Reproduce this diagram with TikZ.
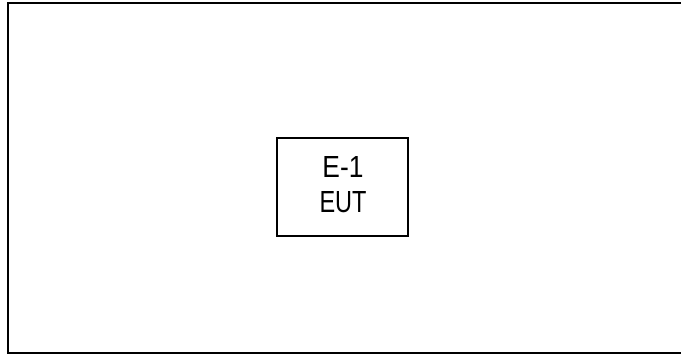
\documentclass[tikz,border=0pt]{standalone}
\usepackage{fontspec}
\setmainfont{Liberation Sans}
\tikzset{
  frame/.style={line width=2pt, draw=black},
  eutbox/.style={draw=black, line width=1.3pt, minimum width=131pt, minimum height=98pt, inner sep=0pt},
  eutlabel/.style={inner sep=0pt, anchor=base}
}
\begin{document}
\begin{tikzpicture}[x=1pt,y=1pt]
\useasboundingbox (0,0) rectangle (681,354);
\coordinate (tr) at (685,350.5);
\coordinate (tl) at (8,350.5);
\coordinate (bl) at (8,1.5);
\coordinate (br) at (685,1.5);
\draw[frame] (tr) -- (tl) -- (bl) -- (br);
\node[eutbox] (eut) at (342.5,167) {};
\node[eutlabel] (e1) at (343,176) {\resizebox{41pt}{21pt}{E-1}};
\node[eutlabel] (eutt) at (343,141) {\resizebox{47pt}{21pt}{EUT}};
\end{tikzpicture}
\end{document}
